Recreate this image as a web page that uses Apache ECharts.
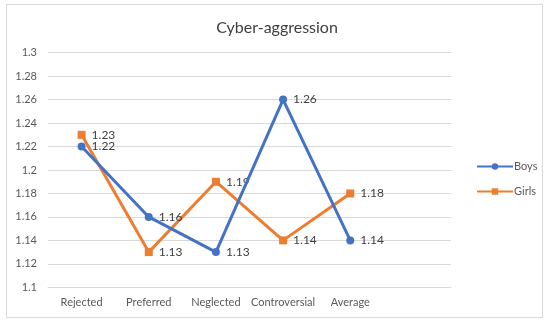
<!DOCTYPE html>
<html><head><meta charset="utf-8">
<script src="https://cdn.jsdelivr.net/npm/echarts@6/dist/echarts.min.js"></script>
<style>
html,body{margin:0;padding:0;background:#fff;}
#frame{position:absolute;left:6px;top:4px;width:537px;height:314px;border:1px solid #d9d9d9;box-sizing:border-box;}
#c{position:absolute;left:0;top:0;width:550px;height:325px;}
</style></head>
<body><div id="frame"></div><div id="c"></div>
<script>
const title = 'Cyber-aggression';
const categories = ['Rejected','Preferred','Neglected','Controversial','Average'];
const boys = [1.22, 1.16, 1.13, 1.26, 1.14];
const girls = [1.23, 1.13, 1.19, 1.14, 1.18];
const yTicks = [1.1,1.12,1.14,1.16,1.18,1.2,1.22,1.24,1.26,1.28,1.3];

const font = 'Lato, "Open Sans", sans-serif';
const chart = echarts.init(document.getElementById('c'));
const lbl = {show:true, position:'right', distance:6, color:'#404040', fontSize:12, fontFamily:font, formatter:p=>String(p.value)};
chart.setOption({
  animation:false,
  title:{text:title, left:272, top:15, textAlign:'center', textStyle:{fontSize:16, fontWeight:'normal', color:'#404040', fontFamily:font}},
  legend:{orient:'vertical', left:471, top:156, itemGap:14, itemWidth:36, itemHeight:8,
    textStyle:{fontSize:11, color:'#595959', fontFamily:font, padding:[0,0,0,-4]},
    data:['Boys','Girls']},
  grid:{left:48, right:99, top:52.7, bottom:37.7, containLabel:false},
  xAxis:{type:'category', data:categories.concat(['']), boundaryGap:true,
    axisLine:{lineStyle:{color:'#d9d9d9'}}, axisTick:{show:false},
    axisLabel:{color:'#595959', fontSize:11, fontFamily:font, margin:10, interval:0}},
  yAxis:{type:'value', min:yTicks[0], max:yTicks[yTicks.length-1], interval:0.02,
    axisLine:{show:false}, axisTick:{show:false},
    splitLine:{lineStyle:{color:'#d9d9d9'}},
    axisLabel:{color:'#595959', fontSize:11, fontFamily:font, margin:11, formatter:v=>String(Math.round(v*100)/100)}},
  series:[
    {name:'Boys', type:'line', data:boys, symbol:'circle', symbolSize:8,
     lineStyle:{width:3, color:'#4472C4'}, itemStyle:{color:'#4472C4'}, label:lbl, z:3},
    {name:'Girls', type:'line', data:girls, symbol:'rect', symbolSize:8,
     lineStyle:{width:3, color:'#ED7D31'}, itemStyle:{color:'#ED7D31'}, label:lbl, z:2}
  ]
});
</script></body></html>
